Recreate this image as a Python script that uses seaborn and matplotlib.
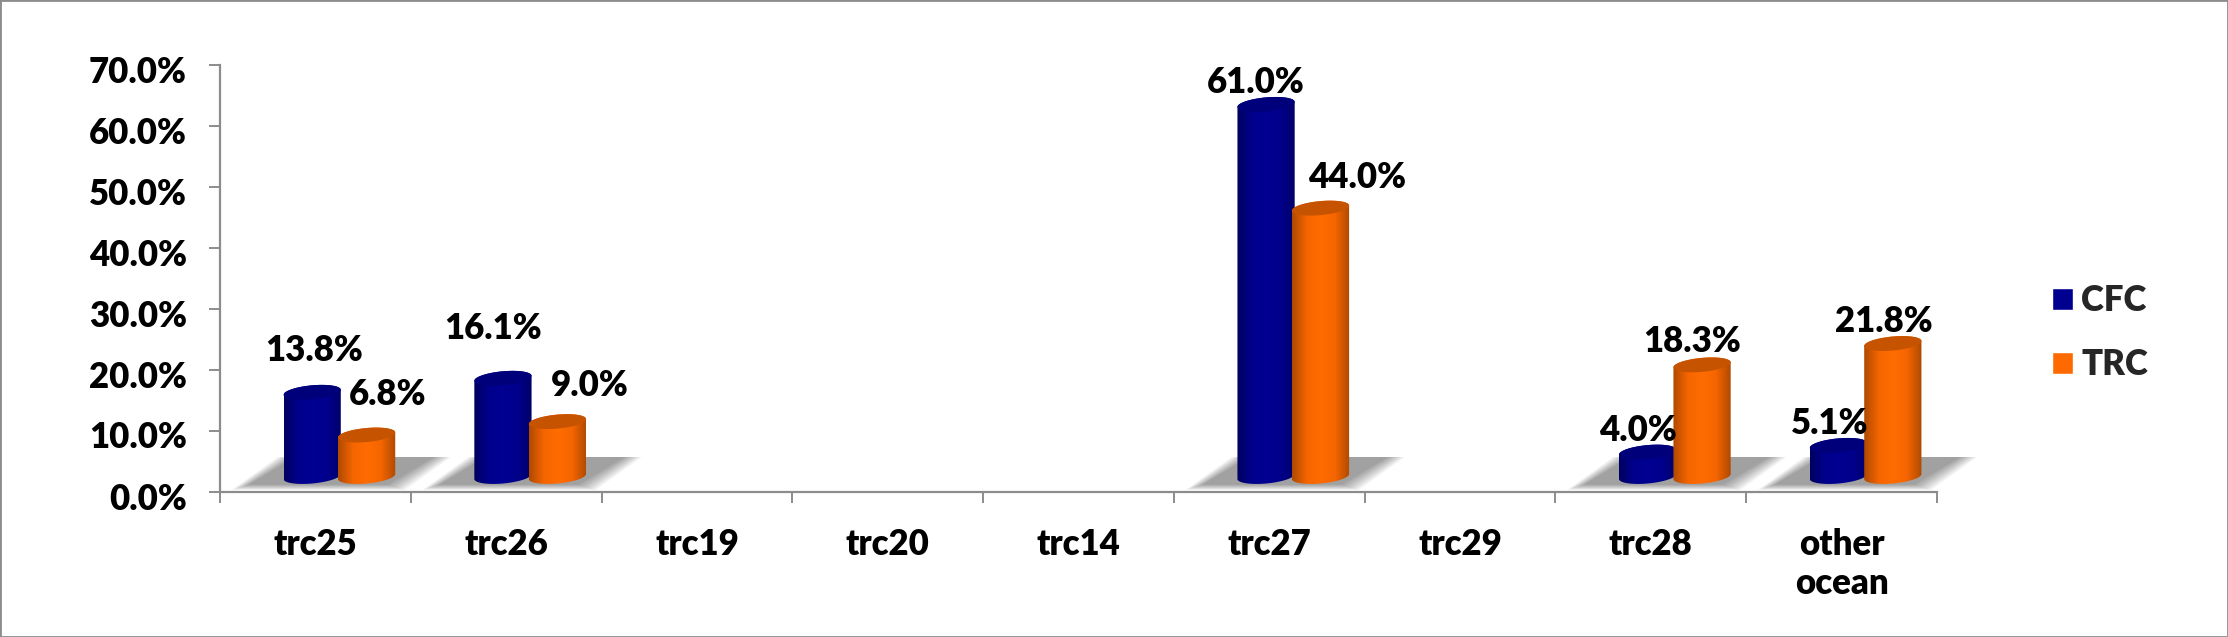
import numpy as np
import pandas as pd
import matplotlib
matplotlib.use('Agg')
import matplotlib.pyplot as plt
from matplotlib.colors import LinearSegmentedColormap
from matplotlib.patches import Patch, Polygon, Rectangle
from matplotlib.transforms import ScaledTranslation
import seaborn as sns

sns.set_theme(style='white')
plt.rcParams['font.family'] = ['Lato', 'DejaVu Sans']
plt.rcParams['font.weight'] = 'bold'

# values
categories = ['trc25', 'trc26', 'trc19', 'trc20', 'trc14', 'trc27', 'trc29', 'trc28', 'other\nocean']
cfc = [13.8, 16.1, np.nan, np.nan, np.nan, 61.0, np.nan, 4.0, 5.1]
trc = [6.8, 9.0, np.nan, np.nan, np.nan, 44.0, np.nan, 18.3, 21.8]
y_ticks = [0, 10, 20, 30, 40, 50, 60, 70]

# label offsets from the bar top centre, in pixels
cfc_shift = [(2, 42), (-10, 50), None, None, None, (-10, 22), None, (-10, 22), (-9, 22)]
trc_shift = [(21, 41), (32, 36), None, None, None, (37, 31), None, (-10, 23), (-9, 22)]

GREY = '#8c8c8c'
FONT = 25
WEIGHT = 800
PX_X = 9 / 1717   # data units per pixel
PX_Y = 70 / 427
FLOOR = 15.5 * PX_Y  # cylinders stand above the axis line

df = pd.DataFrame({
    'category': categories * 2,
    'value': cfc + trc,
    'series': ['CFC'] * 9 + ['TRC'] * 9,
})

fig = plt.figure(figsize=(22.28, 6.37), dpi=100)
ax = fig.add_axes([220 / 2228, (637 - 492) / 637, 1717 / 2228, 427 / 637])

sns.barplot(data=df, x='category', y='value', hue='series', order=categories,
            palette=['#000090', '#ff6a00'], width=0.6, legend=False, ax=ax)

ramps = {
    'CFC': LinearSegmentedColormap.from_list('cfc', ['#000062', '#00008c', '#000092', '#00008c', '#00006a']),
    'TRC': LinearSegmentedColormap.from_list('trc', ['#b04a00', '#f56500', '#ff6c00', '#f56500', '#b04a00']),
}
tops = {'CFC': '#00007a', 'TRC': '#c65300'}
nudge = {'CFC': 1.4 * PX_X, 'TRC': -1.4 * PX_X}
shifts = {'CFC': cfc_shift, 'TRC': trc_shift}


def ellipse(cx, cy, rx, t):
    ry = 7 * PX_Y
    tilt = 2.5 * PX_Y
    return np.column_stack([cx + rx * np.cos(t), cy + ry * np.sin(t) + tilt * np.cos(t)])


spans = {}
for series, z, container in zip(['CFC', 'TRC'], [4, 5], ax.containers):
    for bar in container:
        value = bar.get_height()
        if not np.isfinite(value) or value == 0:
            bar.set_visible(False)
            continue
        idx = int(round(bar.get_x() + bar.get_width() / 2 + (0.15 if series == 'CFC' else -0.15)))
        cx = bar.get_x() + bar.get_width() / 2 + 24 * PX_X + nudge[series]
        rx = bar.get_width() / 2
        base = FLOOR
        top = FLOOR + value
        bar.set_visible(False)

        # body: lower half of the base ellipse, then back over the top
        lower = ellipse(cx, base, rx, np.linspace(np.pi, 2 * np.pi, 60))
        upper = ellipse(cx, top, rx, np.linspace(0, np.pi, 60))
        body = Polygon(np.vstack([lower, upper]), closed=True, transform=ax.transData,
                       facecolor='none', edgecolor='none')
        ax.add_patch(body)
        img = ax.imshow(np.linspace(0, 1, 64)[None, :], cmap=ramps[series], aspect='auto',
                        extent=[cx - rx, cx + rx, base - 2, top + 2], zorder=z)
        img.set_clip_path(body)

        cap = Polygon(ellipse(cx, top, rx, np.linspace(0, 2 * np.pi, 80)), closed=True,
                      facecolor=tops[series], edgecolor='none', zorder=z + 0.5)
        ax.add_patch(cap)

        dx, dy = shifts[series][idx]
        ax.annotate(f'{value:.1f}%', (cx, top), xytext=(dx * 0.72, dy * 0.72),
                    textcoords='offset points', ha='center', va='center',
                    fontsize=FONT, fontweight=WEIGHT, color='black', zorder=8)

        left, right = spans.get(idx, (cx - rx, cx + rx))
        spans[idx] = (min(left, cx - rx), max(right, cx + rx))

# soft grey floor shadow under each bar group
for left, right in spans.values():
    y0 = 2 * PX_Y
    y1 = 35 * PX_Y
    for step in range(12):
        inset = step * 1.6 * PX_X
        lift = step * 0.5 * PX_Y
        pts = [(left - 52 * PX_X + inset, y0 + lift), (right + 10 * PX_X - inset, y0 + lift),
               (right + 56 * PX_X - inset, y1), (left - 6 * PX_X + inset, y1)]
        ax.add_patch(Polygon(pts, closed=True, facecolor='black', edgecolor='none',
                             alpha=0.035, zorder=2, clip_on=False))

ax.set_xlim(-0.5, 8.5)
ax.set_ylim(0, 70)
ax.set_xlabel('')
ax.set_ylabel('')

ax.set_yticks(y_ticks)
ax.set_yticklabels([f'{t:.1f}%' for t in y_ticks], fontsize=FONT, fontweight=WEIGHT, color='black')
ax.set_xticks(range(len(categories)))
ax.set_xticklabels(categories, fontsize=FONT, fontweight=WEIGHT, color='black', linespacing=1.22)
ax.set_xticks(np.arange(-0.5, 9), minor=True)
ax.tick_params(axis='x', which='major', length=0, pad=26, bottom=False)
ax.tick_params(axis='x', which='minor', length=8, width=1.4, color=GREY, bottom=True)
ax.tick_params(axis='y', length=8, width=1.4, color=GREY, pad=16, left=True)

# labels sit a little under their ticks in the reference
for label in ax.get_yticklabels():
    label.set_transform(label.get_transform() + ScaledTranslation(0, -4 / 100, fig.dpi_scale_trans))

sns.despine(ax=ax)
for side in ['left', 'bottom']:
    ax.spines[side].set_color(GREY)
    ax.spines[side].set_linewidth(1.6)
ax.grid(False)

handles = [Patch(facecolor='#000090', label='CFC'), Patch(facecolor='#ff6a00', label='TRC')]
fig.legend(handles=handles, loc='upper left', bbox_to_anchor=(2052 / 2228, 1 - 284 / 637),
           frameon=False, prop={'size': FONT, 'weight': WEIGHT}, handlelength=0.6, handleheight=0.6,
           handletextpad=0.24, labelspacing=0.9, borderpad=0, borderaxespad=0)

fig.add_artist(Rectangle((0, 0), 1, 1, transform=fig.transFigure, fill=False,
                         edgecolor=GREY, linewidth=2))

fig.savefig('out.png', dpi=100, facecolor='white')
